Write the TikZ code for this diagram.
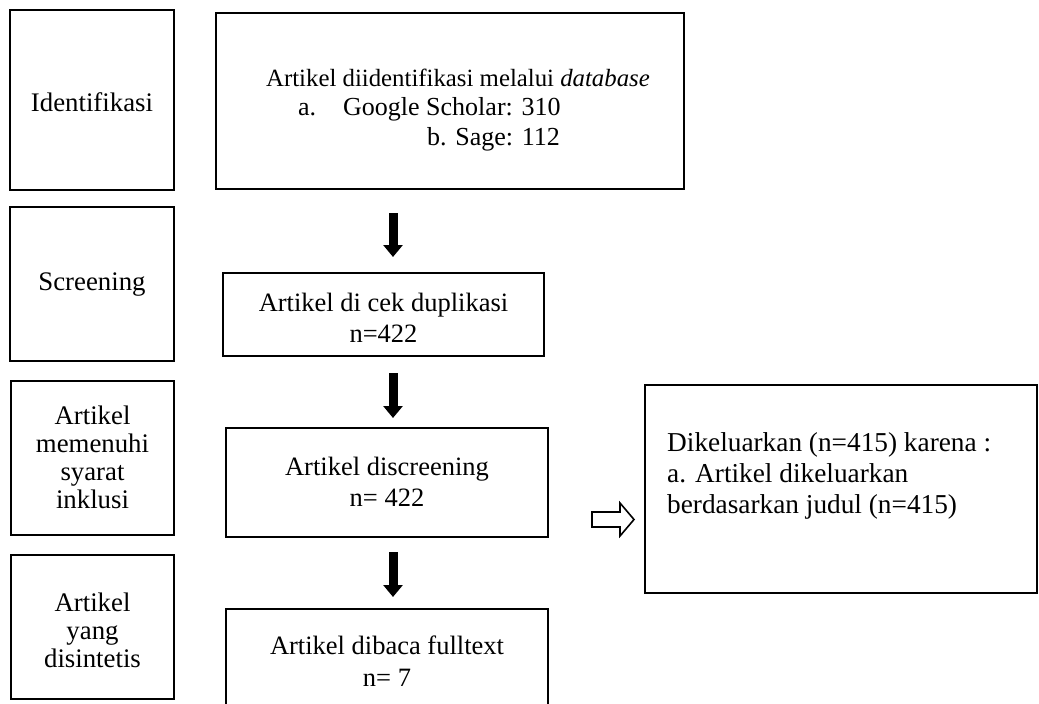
\documentclass[tikz,border=0pt]{standalone}
\usepackage{fontspec}
\setmainfont{Liberation Serif}
\usetikzlibrary{arrows.meta}
\begin{document}
\begin{tikzpicture}[x=1bp,y=-1bp,
  box/.style={draw, line width=1.6bp, inner sep=0pt},
  txt/.style={font=\fontsize{26.5bp}{31.5bp}\selectfont, align=center, inner sep=0pt},
  mtxt/.style={font=\fontsize{26bp}{30bp}\selectfont, inner sep=0pt},
  ltxt/.style={font=\fontsize{26.8bp}{28bp}\selectfont, align=center, inner sep=0pt},
  rtxt/.style={font=\fontsize{27.3bp}{31bp}\selectfont, align=left, inner sep=0pt},
  downarrow/.style={line width=9bp, -{Triangle[length=12bp,width=19bp]}},
  hollow/.style={draw, line width=1.6bp, line join=miter},
]
\useasboundingbox (0,0) rectangle (1039,704);
% left column boxes
\node[box, minimum width=164bp, minimum height=180bp] (l1) at (92,100) {};
\node[box, minimum width=164bp, minimum height=154bp] (l2) at (92,284) {};
\node[box, minimum width=163bp, minimum height=154bp] (l3) at (92.5,458) {};
\node[box, minimum width=163bp, minimum height=144bp] (l4) at (92.5,627) {};
\node[ltxt] (t1) at (92,102) {Identifikasi};
\node[ltxt] (t2) at (92,285) {Screening};
\node[ltxt] (t3) at (92.5,457) {Artikel\\memenuhi\\syarat\\inklusi};
\node[ltxt] (t4) at (92.5,630) {Artikel\\yang\\disintetis};
% main column boxes
\node[box, minimum width=468bp, minimum height=176bp] (m1) at (450,101) {};
\node[box, minimum width=321bp, minimum height=83bp] (m2) at (383.5,314.5) {};
\node[box, minimum width=322bp, minimum height=109bp] (m3) at (387,482.5) {};
\node[box, minimum width=322bp, minimum height=111bp] (m4) at (387,664.5) {};
\node[mtxt, anchor=base, font=\fontsize{24.8bp}{30bp}\selectfont] (m1a) at (458,87) {Artikel diidentifikasi melalui \textit{database}};
\node[mtxt, anchor=base west] (m1b) at (298,116) {\makebox[45bp][l]{a.}Google Scholar: 310};
\node[mtxt, anchor=base west] (m1c) at (427,146) {b. Sage: 112};
\node[txt] (m2t) at (383.5,318) {Artikel di cek duplikasi\\n=422};
\node[txt] (m3t) at (387,482) {Artikel discreening\\n= 422};
\node[txt] (m4t) at (387,661) {Artikel dibaca fulltext\\n= 7};
% right box
\node[box, minimum width=392bp, minimum height=208bp] (r) at (841,489) {};
\node[rtxt, anchor=west] (rt) at (667,476) {Dikeluarkan (n=415) karena :\\a. Artikel dikeluarkan\\berdasarkan judul (n=415)};
% down arrows
\coordinate (a1s) at (393,213); \coordinate (a1e) at (393,257);
\coordinate (a2s) at (393,373); \coordinate (a2e) at (393,418);
\coordinate (a3s) at (393,552); \coordinate (a3e) at (393,597);
\draw[downarrow] (a1s) -- (a1e);
\draw[downarrow] (a2s) -- (a2e);
\draw[downarrow] (a3s) -- (a3e);
% hollow right arrow
\draw[hollow] (592,512) -- (620,512) -- (620,503) -- (634,519.5) -- (620,536) -- (620,527) -- (592,527) -- cycle;
\end{tikzpicture}
\end{document}
